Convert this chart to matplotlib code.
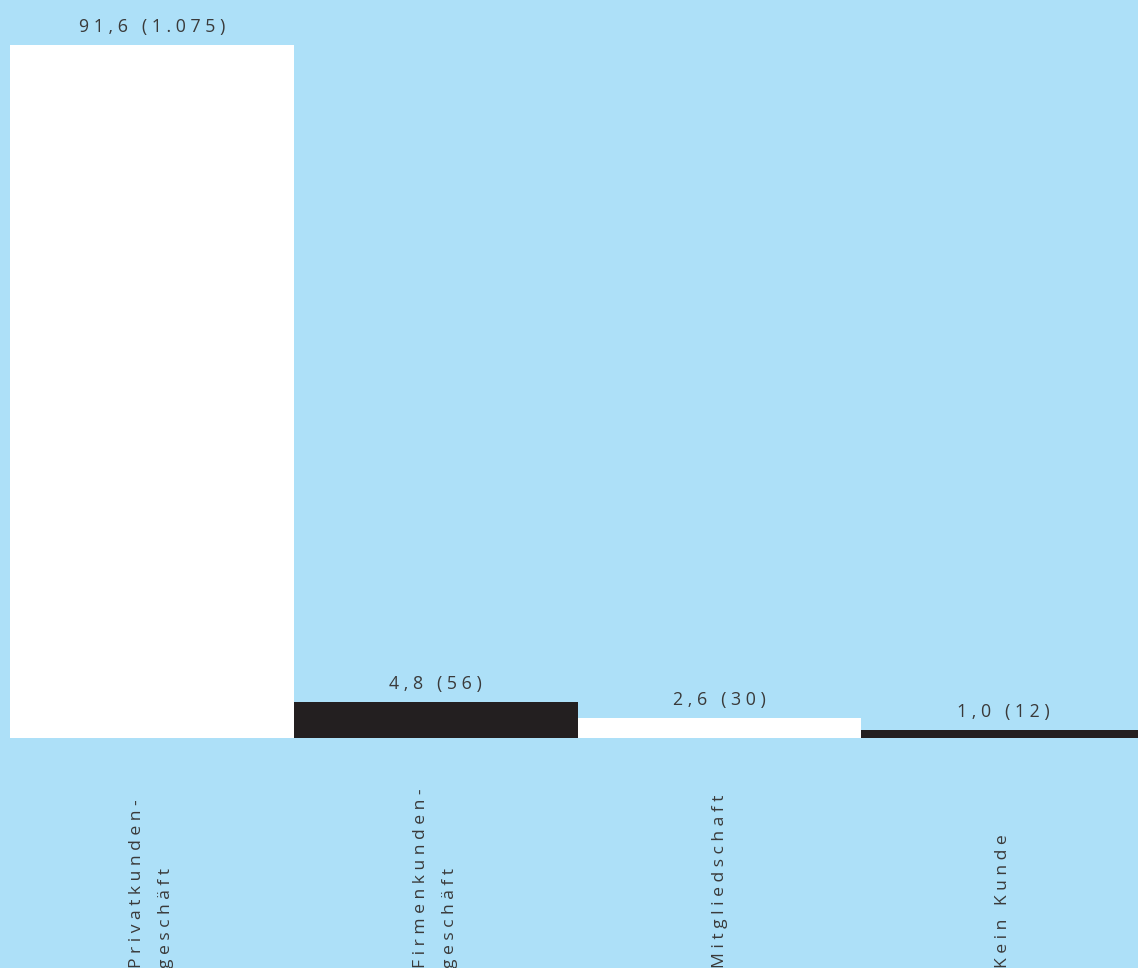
import matplotlib
matplotlib.use("Agg")
import matplotlib.pyplot as plt

categories = ["Privatkunden-\ngeschäft", "Firmenkunden-\ngeschäft", "Mitgliedschaft", "Kein Kunde"]
values = [91.6, 4.8, 2.6, 1.0]
counts = ["1.075", "56", "30", "12"]
bar_colors = ["#FFFFFF", "#231F20", "#FFFFFF", "#231F20"]

BG = "#ADE0F8"
TXT = "#3A3A3A"


def spaced(s):
    return "\n".join(" ".join(line) for line in s.split("\n"))


def fmt(v):
    return f"{v:.1f}".replace(".", ",")


W, H, DPI = 1138, 968, 100
fig = plt.figure(figsize=(W / DPI, H / DPI), dpi=DPI, facecolor=BG)
bar_px = 283.8
ax = fig.add_axes([10 / W, 230 / H, 4 * bar_px / W, 738 / H])
ax.set_facecolor(BG)
x = list(range(len(values)))
ax.bar(x, values, width=1.0, color=bar_colors, linewidth=0)
ax.set_xlim(-0.5, 3.5)
ax.set_ylim(0, values[0] * 738 / 693)
for s in ax.spines.values():
    s.set_visible(False)
ax.set_xticks([])
ax.set_yticks([])

font = "Open Sans"
for xi, v, c in zip(x, values, counts):
    ax.annotate(spaced(f"{fmt(v)} ({c})"), (xi, v), xytext=(0, 6.5), textcoords="offset points",
                ha="center", va="bottom", fontsize=12.8, color=TXT, family=font)

for xi, cat in zip(x, categories):
    xd = ax.transData.transform((xi, 0))[0]
    fig.text(xd / W, 0, spaced(cat), rotation=90, ha="center", va="bottom",
             multialignment="left", fontsize=12.6, color=TXT, family=font, linespacing=2.1)

fig.savefig("out.png", dpi=DPI, facecolor=BG)
